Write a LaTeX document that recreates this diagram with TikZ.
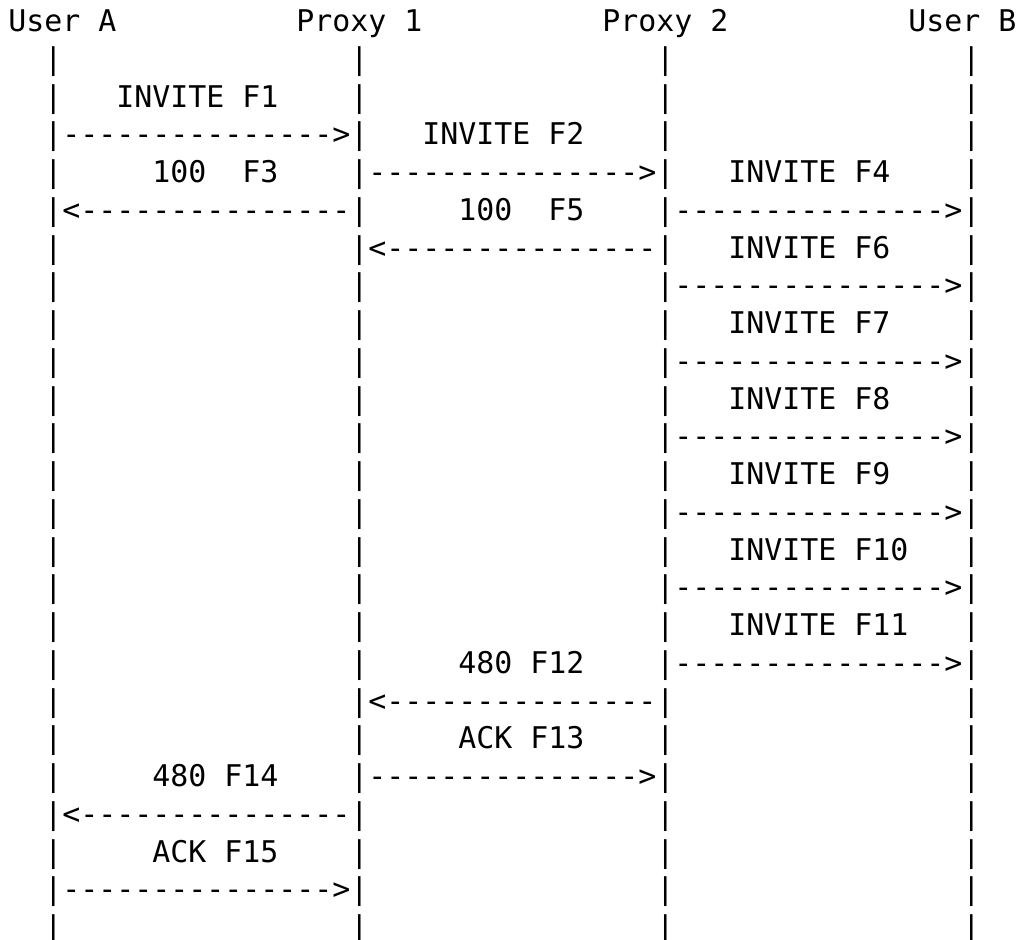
\documentclass[tikz,border=0pt]{standalone}
\usepackage{fontspec}
\setmonofont{DejaVu Sans Mono}
\usepackage{tikz}

\newcommand{\sendright}{--------------->}
\newcommand{\sendleft}{<---------------}

\begin{document}
\begin{tikzpicture}[
    x=18pt, y=-37.75pt,
    every node/.style={anchor=base west, inner sep=0pt, outer sep=0pt, font=\ttfamily\fontsize{29.9pt}{37.75pt}\selectfont},
    party/.style={text=black},
    msg/.style={text=black}
]
\useasboundingbox (-8.3pt,31.5pt) rectangle (1012.7pt,-908.5pt);

\node[party] (ua) at (0,0) {User A};
\node[party] (p1) at (16,0) {Proxy 1};
\node[party] (p2) at (33,0) {Proxy 2};
\node[party] (ub) at (50,0) {User B};

\foreach \col/\who in {2/ua, 19/p1, 36/p2, 53/ub}
    \foreach \row in {1,...,24}
        \node[party] (\who-\row) at (\col,\row) {|};

\node[msg] (f1) at (6,2) {INVITE F1};
\node[msg] (a1) at (3,3) {\sendright};
\node[msg] (f2) at (23,3) {INVITE F2};
\node[msg] (a2) at (20,4) {\sendright};
\node[msg] (f3) at (8,4) {100~~F3};
\node[msg] (a3) at (3,5) {\sendleft};
\node[msg] (f4) at (40,4) {INVITE F4};
\node[msg] (a4) at (37,5) {\sendright};
\node[msg] (f5) at (25,5) {100~~F5};
\node[msg] (a5) at (20,6) {\sendleft};

\foreach \k in {6,...,11} {
    \pgfmathtruncatemacro{\r}{2*\k-6}
    \node[msg] (f\k) at (40,\r) {INVITE F\k};
    \node[msg] (a\k) at (37,\r+1) {\sendright};
}

\node[msg] (f12) at (25,17) {480 F12};
\node[msg] (a12) at (20,18) {\sendleft};
\node[msg] (f13) at (25,19) {ACK F13};
\node[msg] (a13) at (20,20) {\sendright};
\node[msg] (f14) at (8,20) {480 F14};
\node[msg] (a14) at (3,21) {\sendleft};
\node[msg] (f15) at (8,22) {ACK F15};
\node[msg] (a15) at (3,23) {\sendright};

\end{tikzpicture}
\end{document}
